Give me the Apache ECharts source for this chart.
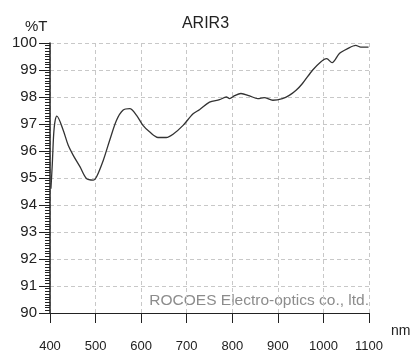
<!DOCTYPE html>
<html>
<head>
<meta charset="utf-8">
<script src="https://cdn.jsdelivr.net/npm/echarts@6/dist/echarts.min.js"></script>
<style>html,body{margin:0;padding:0;background:#fff;}#c{width:411px;height:359px;}</style>
</head>
<body>
<div id="c"></div>
<script>
var titleText = 'ARIR3';
var yUnit = '%T';
var xUnit = 'nm';
var watermark = 'ROCOES Electro-optics co., ltd.';
var wavelength = [402, 405, 408, 411, 415, 429, 440, 451, 466, 480, 495, 502, 517, 531, 546, 560, 575, 590, 604, 619, 637, 655, 670, 692, 714, 728, 750, 772, 787, 794, 805, 819, 838, 856, 870, 889, 910, 925, 940, 954, 976, 994, 1007, 1019, 1035, 1053, 1071, 1082, 1099];
var transmittance = [94.6, 95.5, 96.6, 97.1, 97.29, 96.77, 96.21, 95.84, 95.41, 94.98, 94.92, 95.04, 95.66, 96.40, 97.14, 97.51, 97.57, 97.32, 96.95, 96.70, 96.50, 96.50, 96.62, 96.95, 97.38, 97.53, 97.81, 97.90, 98.00, 97.94, 98.05, 98.13, 98.04, 97.94, 97.98, 97.88, 97.94, 98.06, 98.25, 98.50, 98.99, 99.30, 99.42, 99.27, 99.61, 99.79, 99.91, 99.85, 99.85];

var pts = wavelength.map(function (w, i) { return [w, transmittance[i]]; });
var font = '"Liberation Sans", Arial, sans-serif';
var chart = echarts.init(document.getElementById('c'));
chart.setOption({
  animation: false,
  backgroundColor: '#fff',
  title: {
    text: titleText, left: 'center', top: 11,
    textStyle: { fontFamily: font, fontWeight: 'normal', fontSize: 16, color: '#222' }
  },
  grid: { left: 50, right: 42, top: 43, bottom: 46 },
  xAxis: {
    type: 'value', min: 400, max: 1100, interval: 100,
    axisLine: { show: true, lineStyle: { color: '#222', width: 1 } },
    axisTick: { show: true, length: 10, lineStyle: { color: '#222' } },
    axisLabel: { margin: 27, fontFamily: font, fontSize: 13, color: '#222', formatter: function (v) { return String(v); } },
    splitLine: { show: true, lineStyle: { color: '#c8c8c8', type: [4, 3], width: 1 } }
  },
  yAxis: {
    type: 'value', min: 90, max: 100, interval: 1,
    axisLine: { show: true, lineStyle: { color: '#222', width: 1.5 } },
    axisTick: { show: true, length: 11, lineStyle: { color: '#222' } },
    minorTick: { show: true, splitNumber: 10, length: 5, lineStyle: { color: '#222' } },
    axisLabel: { margin: 13, fontFamily: font, fontSize: 15, color: '#222' },
    splitLine: { show: true, lineStyle: { color: '#c8c8c8', type: [4, 3], width: 1 } }
  },
  graphic: [
    { type: 'text', left: 25, top: 19, style: { text: yUnit, font: '15px ' + font, fill: '#222' } },
    { type: 'text', left: 391, top: 324, style: { text: xUnit, font: '14px ' + font, fill: '#222' } },
    { type: 'text', right: 42, top: 293, style: { text: watermark, font: '15.5px ' + font, fill: '#8c8c8c' } }
  ],
  series: [{
    type: 'line', data: pts, showSymbol: false, smooth: 0.3,
    lineStyle: { color: '#333', width: 1.3 }
  }]
});
</script>
</body>
</html>
